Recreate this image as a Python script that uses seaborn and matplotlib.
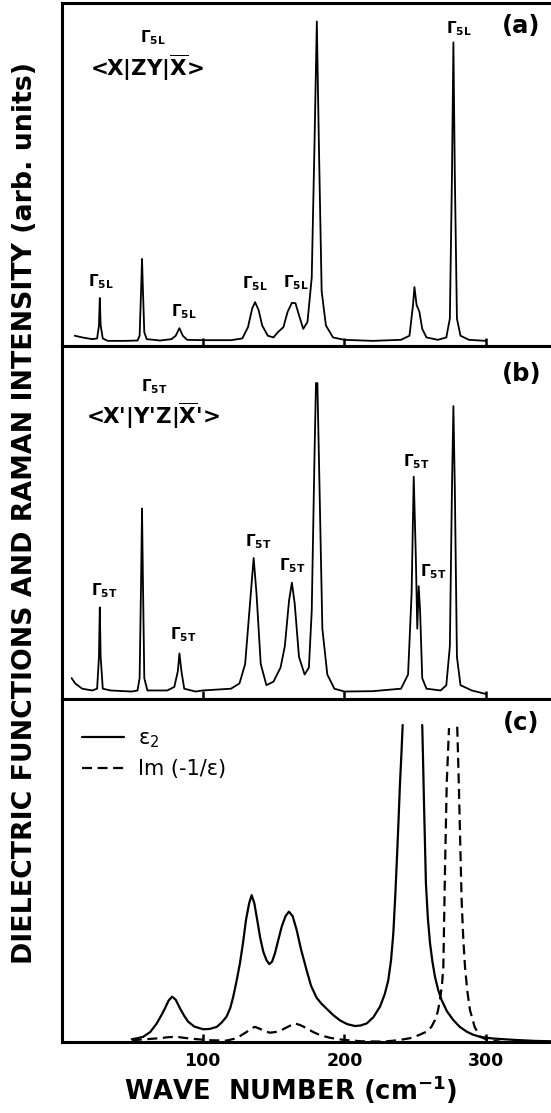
import numpy as np
import pandas as pd
import matplotlib
matplotlib.use("Agg")
import matplotlib.pyplot as plt
import seaborn as sns
from matplotlib.lines import Line2D

# ---------------- data (y as fraction of panel height) ----------------
a_x = [9.7, 15, 22, 25.5, 26.8, 27.4, 28.0, 29.5, 33, 45, 54, 55.5, 56.6, 57.2, 57.8, 58.8, 60.5,
       70, 78, 81, 83.6, 86, 89, 100, 120, 128, 132, 135, 137, 139.5, 142, 146, 150, 153, 157, 160,
       163, 165.5, 168, 171, 174, 177, 179, 180.6, 182, 184, 187, 192, 200, 220, 240, 246, 248.5,
       249.5, 251, 253, 255, 258, 266, 272, 274.5, 276, 277, 278, 279.5, 282, 288, 300]
a_y = [0.030, 0.025, 0.020, 0.022, 0.06, 0.140, 0.06, 0.022, 0.015, 0.015, 0.016, 0.03, 0.17, 0.254,
       0.17, 0.04, 0.020, 0.016, 0.020, 0.030, 0.052, 0.030, 0.018, 0.017, 0.017, 0.022, 0.055,
       0.110, 0.128, 0.105, 0.06, 0.03, 0.025, 0.04, 0.055, 0.10, 0.126, 0.125, 0.09, 0.05, 0.07,
       0.20, 0.60, 0.947, 0.60, 0.16, 0.06, 0.025, 0.018, 0.015, 0.018, 0.03, 0.12, 0.172, 0.12,
       0.10, 0.05, 0.025, 0.018, 0.025, 0.08, 0.50, 0.886, 0.50, 0.08, 0.03, 0.018, 0.015]

b_x = [7.5, 10, 15, 22, 25.5, 26.8, 27.4, 28, 29.5, 35, 50, 54, 55.5, 56.6, 57.2, 57.8, 58.8, 61,
       75, 80, 82.5, 83.6, 85, 87, 95, 100, 120, 126, 130, 134, 136, 138, 141, 145, 150, 155, 158,
       161, 163, 165, 168, 172, 175, 177, 179, 180, 181, 182.5, 184.5, 188, 193, 200, 220, 240,
       245, 247.5, 249, 250.5, 251.5, 252.5, 253.5, 255, 258, 268, 272, 274.5, 276, 277, 278,
       279.5, 282, 290, 300]
b_y = [0.06, 0.045, 0.03, 0.025, 0.03, 0.12, 0.26, 0.12, 0.03, 0.025, 0.022, 0.025, 0.06, 0.35,
       0.54, 0.35, 0.06, 0.025, 0.025, 0.035, 0.08, 0.13, 0.08, 0.03, 0.022, 0.025, 0.03, 0.045,
       0.10, 0.30, 0.40, 0.30, 0.10, 0.04, 0.05, 0.09, 0.15, 0.28, 0.33, 0.27, 0.12, 0.07, 0.09,
       0.25, 0.70, 0.895, 0.895, 0.60, 0.20, 0.07, 0.03, 0.022, 0.023, 0.03, 0.07, 0.30, 0.63,
       0.40, 0.20, 0.32, 0.25, 0.06, 0.03, 0.025, 0.04, 0.15, 0.60, 0.83, 0.60, 0.12, 0.04,
       0.025, 0.015]

# panel (c): epsilon_2 (solid) -- part before and part after the peak that runs off the top
e2_x_rise = [50, 54, 58, 63, 67.6, 71, 73.4, 76, 78.5, 81, 84, 87, 89.8, 94, 100.4, 105, 110,
             113.5, 116.9, 119.5, 121.6, 124, 126.3, 128.5, 130.6, 132.8, 134.6, 136.5, 138.5,
             140.6, 142.8, 145, 147, 149, 151, 153.5, 155.8, 158.5, 160.9, 163.5, 166.4, 169.5,
             173.4, 176.5, 180.4, 184, 187.5, 192, 196.9, 202, 207.5, 211.5, 215.8, 220.5, 225.2,
             228.5, 231, 233, 234.6, 236, 237.4, 238.4, 239.3, 240.3, 241.2]
e2_y_rise = [0.009, 0.012, 0.016, 0.03, 0.055, 0.08, 0.099, 0.122, 0.133, 0.124, 0.099, 0.077,
             0.06, 0.046, 0.038, 0.039, 0.045, 0.058, 0.075, 0.10, 0.133, 0.18, 0.23, 0.29, 0.357,
             0.405, 0.429, 0.405, 0.357, 0.305, 0.264, 0.240, 0.228, 0.235, 0.259, 0.300, 0.337,
             0.368, 0.381, 0.368, 0.327, 0.270, 0.210, 0.165, 0.130, 0.112, 0.098, 0.080, 0.064,
             0.053, 0.0475, 0.049, 0.055, 0.073, 0.104, 0.14, 0.18, 0.24, 0.318, 0.43, 0.56, 0.66,
             0.755, 0.84, 0.925]
e2_x_fall = [255.0, 255.6, 256.2, 257.6, 259, 260.5, 262.2, 264, 266.3, 268.7, 272.5, 276.9,
             281.5, 286.4, 291, 295.8, 305, 320, 335, 346]
e2_y_fall = [0.925, 0.82, 0.706, 0.464, 0.36, 0.289, 0.235, 0.191, 0.152, 0.123, 0.090, 0.065,
             0.045, 0.031, 0.022, 0.016, 0.011, 0.007, 0.004, 0.003]

# panel (c): Im(-1/eps) (dashed)
el_x_rise = [50, 60, 69.9, 76, 81.6, 87, 93.4, 105, 116.9, 122, 126.3, 131, 134, 136.9, 140, 144,
             147.5, 151.5, 155.8, 160.5, 165.2, 169, 173.4, 178, 182.8, 190, 199.5, 212, 227.5,
             238, 246.4, 252, 258.1, 261.5, 264, 266, 267.5, 269, 269.9, 271.1, 272.3, 273.9]
el_y_rise = [0.006, 0.009, 0.012, 0.015, 0.016, 0.013, 0.010, 0.006, 0.005, 0.010, 0.018, 0.030,
             0.040, 0.045, 0.040, 0.032, 0.028, 0.030, 0.036, 0.046, 0.055, 0.050, 0.041, 0.030,
             0.021, 0.013, 0.007, 0.003, 0.002, 0.006, 0.012, 0.020, 0.031, 0.045, 0.065, 0.09,
             0.123, 0.17, 0.22, 0.51, 0.755, 0.916]
el_x_fall = [279.7, 280.4, 281.1, 282.8, 284, 285.2, 286.8, 288.7, 292, 295.8, 302, 310]
el_y_fall = [0.92, 0.82, 0.706, 0.415, 0.30, 0.22, 0.15, 0.094, 0.045, 0.016, 0.006, 0.002]

x_ticks = [100, 200, 300]
x_tick_labels = ["100", "200", "300"]

# Gamma labels: (x, y_frac, subscript)
a_labels = [(28.4, 0.187, "5L"), (87, 0.099, "5L"), (137, 0.181, "5L"), (166, 0.184, "5L"),
            (281, 0.927, "5L"), (64.6, 0.90, "5L")]
b_labels = [(30.6, 0.307, "5T"), (86.6, 0.182, "5T"), (139, 0.446, "5T"), (163.5, 0.378, "5T"),
            (250.7, 0.673, "5T"), (262.7, 0.361, "5T"), (65.6, 0.885, "5T")]

# ---------------- figure ----------------
sns.set_style("white")
plt.rcParams["font.family"] = ["DejaVu Sans"]
plt.rcParams["mathtext.fontset"] = "dejavusans"
for k in ["text.color", "axes.labelcolor", "xtick.color", "ytick.color", "axes.edgecolor"]:
    plt.rcParams[k] = "black"

W, H = 551, 1113
fig = plt.figure(figsize=(W / 100, H / 100), dpi=100)
left = 61.7 / W
panels_px = [(3.3, 346), (346, 699.3), (699.3, 1042.3)]
XL = (0.5, 345.9)
axes = []
for top, bot in panels_px:
    ax = fig.add_axes([left, 1 - bot / H, 1 - left, (bot - top) / H])
    axes.append(ax)

lw_ab = 1.3
lw_c = 1.6
dash = (0, (4.5, 2.5))


def segments(xr, yr, xf, yf):
    return pd.DataFrame({"x": list(xr) + list(xf), "y": list(yr) + list(yf),
                         "seg": [0] * len(xr) + [1] * len(xf)})


dfa = pd.DataFrame({"x": a_x, "y": a_y})
sns.lineplot(data=dfa, x="x", y="y", ax=axes[0], color="black", lw=lw_ab, sort=False, estimator=None)
dfb = pd.DataFrame({"x": b_x, "y": b_y})
sns.lineplot(data=dfb, x="x", y="y", ax=axes[1], color="black", lw=lw_ab, sort=False, estimator=None)
dfe = segments(e2_x_rise, e2_y_rise, e2_x_fall, e2_y_fall)
sns.lineplot(data=dfe, x="x", y="y", units="seg", ax=axes[2], color="black", lw=lw_c,
             sort=False, estimator=None)
dfl = segments(el_x_rise, el_y_rise, el_x_fall, el_y_fall)
sns.lineplot(data=dfl, x="x", y="y", units="seg", ax=axes[2], color="black", lw=lw_c,
             sort=False, estimator=None, linestyle=dash)

for ax in axes:
    ax.set_xlabel("")
    ax.set_ylabel("")
    ax.set_yticks([])
    ax.set_xlim(*XL)
    ax.set_ylim(0, 1)
    ax.set_xticks(x_ticks)
    ax.tick_params(axis="x", which="both", bottom=True, top=False, direction="in",
                   length=6, width=1.8, color="black")
    for s in ["left", "top", "bottom"]:
        ax.spines[s].set_linewidth(2.2)
        ax.spines[s].set_color("black")
    ax.spines["right"].set_visible(False)

axes[0].set_xticklabels([])
axes[1].set_xticklabels([])
axes[2].set_xticklabels(x_tick_labels, fontsize=12.5, fontweight="bold")
axes[2].tick_params(axis="x", pad=7)


def gamma(ax, x, y, sub):
    ax.text(x, y, r"$\mathbf{\Gamma}_{\mathbf{%s}}$" % sub, transform=ax.get_xaxis_transform(),
            ha="center", va="center", fontsize=11)


for x, y, s in a_labels:
    gamma(axes[0], x, y, s)
for x, y, s in b_labels:
    gamma(axes[1], x, y, s)

axes[0].text(60.7, 0.813, r"<X|ZY|$\overline{\mathbf{X}}$>", transform=axes[0].get_xaxis_transform(),
             ha="center", va="center", fontsize=15.5, fontweight="bold")
axes[1].text(64.6, 0.803, r"<X'|Y'Z|$\overline{\mathbf{X}}$'>",
             transform=axes[1].get_xaxis_transform(),
             ha="center", va="center", fontsize=15.5, fontweight="bold")

for ax, lab, yy in zip(axes, ["(a)", "(b)", "(c)"], [0.933, 0.92, 0.93]):
    ax.text(325, yy, lab, transform=ax.get_xaxis_transform(), ha="center", va="center",
            fontsize=17.5, fontweight="bold")

handles = [Line2D([], [], color="black", lw=lw_c),
           Line2D([], [], color="black", lw=lw_c, linestyle=dash)]
axes[2].legend(handles, ["ε$_2$", "Im (-1/ε)"], loc="upper left", bbox_to_anchor=(0.003, 0.97),
               frameon=False, fontsize=15, handlelength=2.0, handletextpad=0.7, labelspacing=0.45,
               borderpad=0.4)

# axis titles, sized to the reference's measured length
renderer = fig.canvas.get_renderer()
xt = fig.text(291 / W, 1 - 1090 / H, r"WAVE  NUMBER (cm$^{\mathbf{-1}}$)", ha="center",
              va="center", fontsize=18, fontweight="heavy")
w = xt.get_window_extent(renderer).width
xt.set_fontsize(18 * 333 / w)

yt = fig.text(25.5 / W, 1 - 513 / H, "DIELECTRIC FUNCTIONS AND RAMAN INTENSITY (arb. units)",
              rotation=90, ha="center", va="center", fontsize=18, fontweight="heavy")
h = yt.get_window_extent(renderer).height
yt.set_fontsize(18 * 900 / h)

fig.savefig("out.png", dpi=100, facecolor="white")
